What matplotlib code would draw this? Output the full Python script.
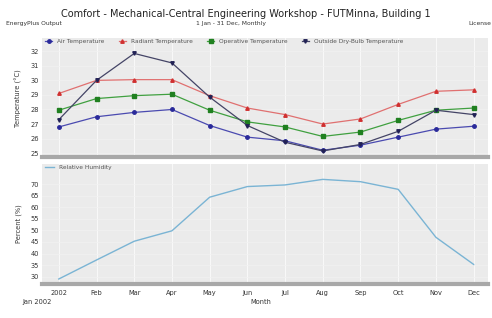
import matplotlib
matplotlib.use("Agg")
import matplotlib.pyplot as plt
import numpy as np

months = ["2002", "Feb", "Mar", "Apr", "May", "Jun", "Jul", "Aug", "Sep", "Oct", "Nov", "Dec"]
air_temp = [26.8, 27.5, 27.8, 28.0, 26.9, 26.1, 25.85, 25.2, 25.55, 26.1, 26.65, 26.85]
radiant_temp = [29.1, 30.0, 30.05, 30.05, 28.95, 28.1, 27.65, 27.0, 27.35, 28.35, 29.25, 29.35]
operative_temp = [27.95, 28.75, 28.95, 29.05, 27.95, 27.15, 26.8, 26.15, 26.45, 27.25, 27.95, 28.1]
outside_temp = [27.3, 30.0, 31.85, 31.2, 28.85, 26.9, 25.75, 25.15, 25.6, 26.5, 27.95, 27.65]
rel_humidity = [29.0, 37.2, 45.3, 49.8, 64.3, 68.9, 69.6, 72.0, 71.0, 67.7, 47.0, 35.3]
temp_ticks = [25, 26, 27, 28, 29, 30, 31, 32]
rh_ticks = [30, 35, 40, 45, 50, 55, 60, 65, 70]

x = np.arange(len(months))

fig = plt.figure(figsize=(4.92, 3.18), dpi=100)
fig.patch.set_facecolor("white")

bg = "#ebebeb"
tick_fs = 4.8
txt_col = "#333333"

def style(ax):
    ax.set_facecolor(bg)
    for s in ["top", "right", "left"]:
        ax.spines[s].set_visible(False)
    ax.spines["bottom"].set_color("#a8a8a8")
    ax.spines["bottom"].set_linewidth(3)
    ax.tick_params(axis="y", length=0, labelsize=tick_fs, colors=txt_col, pad=2)
    ax.tick_params(axis="x", length=0, labelsize=tick_fs, colors=txt_col, pad=4)
    ax.set_xticks(x)
    ax.grid(axis="x", color="#f8f8f8", linewidth=0.8)
    ax.grid(axis="y", color="#f2f2f2", linewidth=0.5)
    ax.set_axisbelow(True)
    ax.set_xlim(-0.45, 11.37)

ax1 = fig.add_axes([0.085, 0.506, 0.906, 0.374])
style(ax1)
ax1.plot(x, radiant_temp, color="#e07070", lw=0.9, marker="^", ms=2.5, mfc="#d03030", mec="#d03030", label="Radiant Temperature")
ax1.plot(x, operative_temp, color="#40a040", lw=0.9, marker="s", ms=2.5, mfc="#208020", mec="#208020", label="Operative Temperature")
ax1.plot(x, air_temp, color="#4a4ab0", lw=0.9, marker="o", ms=2.5, mfc="#2a2a9a", mec="#2a2a9a", label="Air Temperature")
ax1.plot(x, outside_temp, color="#444466", lw=0.9, marker="v", ms=2.5, mfc="#222255", mec="#222255", label="Outside Dry-Bulb Temperature")
ax1.set_ylim(24.73, 32.9)
ax1.set_yticks(temp_ticks)
ax1.set_xticklabels([])
ax1.set_ylabel("Temperature (°C)", fontsize=4.8, color=txt_col, labelpad=6)
h, l = ax1.get_legend_handles_labels()
order = [2, 0, 1, 3]
leg = ax1.legend([h[i] for i in order], [l[i] for i in order], loc="upper left", ncol=4,
                 fontsize=4.2, frameon=False, bbox_to_anchor=(0.0, 1.02), handlelength=1.2,
                 columnspacing=2.5, handletextpad=0.8, borderaxespad=0.2)
for t in leg.get_texts():
    t.set_color("#555555")

ax2 = fig.add_axes([0.085, 0.107, 0.906, 0.377])
style(ax2)
ax2.plot(x, rel_humidity, color="#7ab4d4", lw=1.0, label="Relative Humidity")
ax2.set_ylim(26.85, 78.6)
ax2.set_yticks(rh_ticks)
ax2.set_xticklabels(months)
ax2.set_ylabel("Percent (%)", fontsize=4.8, color=txt_col, labelpad=6)
leg2 = ax2.legend(loc="upper left", fontsize=4.2, frameon=False, handlelength=1.5,
                  bbox_to_anchor=(0.0, 1.02), borderaxespad=0.2)
for t in leg2.get_texts():
    t.set_color("#555555")

fig.text(0.5, 0.955, "Comfort - Mechanical-Central Engineering Workshop - FUTMinna, Building 1",
         ha="center", va="center", fontsize=7.0, color="#222222")
fig.text(0.012, 0.925, "EnergyPlus Output", ha="left", va="center", fontsize=4.3, color=txt_col)
fig.text(0.47, 0.925, "1 Jan - 31 Dec, Monthly", ha="center", va="center", fontsize=4.3, color=txt_col)
fig.text(0.998, 0.925, "License", ha="right", va="center", fontsize=4.3, color=txt_col)
fig.text(0.045, 0.05, "Jan 2002", ha="left", va="center", fontsize=4.8, color=txt_col)
fig.text(0.53, 0.05, "Month", ha="center", va="center", fontsize=4.8, color=txt_col)

fig.savefig("out.png", dpi=100)
